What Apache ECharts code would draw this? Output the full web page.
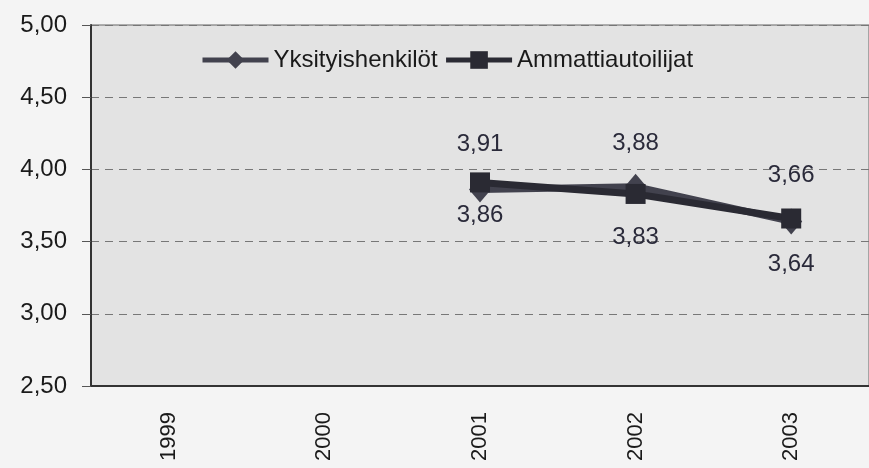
<!DOCTYPE html>
<html>
<head>
<meta charset="utf-8">
<script src="https://cdn.jsdelivr.net/npm/echarts@6/dist/echarts.min.js"></script>
<style>
  html, body { margin: 0; padding: 0; background: #f4f4f4; }
  #chart { width: 869px; height: 468px; }
</style>
</head>
<body>
<div id="chart"></div>
<script>
const years = ["1999", "2000", "2001", "2002", "2003"];
const yksityiset = [null, null, 3.86, 3.88, 3.64];
const ammattilaiset = [null, null, 3.91, 3.83, 3.66];

// label placement (above/below the marker), per year
const yksSide = [null, null, "bottom", "top", "bottom"];
const yksDist = [0, 0, 1, 18, 18];
const ammSide = [null, null, "top", "bottom", "top"];
const ammDist = [0, 0, 16, 21, 21];

const font = "'Liberation Sans', Arial, sans-serif";
const comma = v => v.toFixed(2).replace(".", ",");

function points(values, sides, dists) {
  return values.map((v, i) => v == null ? null : {
    value: v,
    label: { position: sides[i], distance: dists[i] }
  });
}

const chart = echarts.init(document.getElementById("chart"));
chart.setOption({
  animation: false,
  textStyle: { fontFamily: font },
  legend: {
    left: 200,
    top: 48,
    padding: 0,
    itemWidth: 66,
    itemHeight: 22,
    itemGap: 6,
    lineStyle: { width: 5 },
    textStyle: { fontSize: 24, color: "#1a1a1a", fontFamily: font },
    data: ["Yksityishenkilöt", "Ammattiautoilijat"]
  },
  grid: {
    left: 91,
    top: 25,
    width: 794,
    bottom: 82,
    show: true,
    backgroundColor: "#e3e3e3",
    borderColor: "#666",
    borderWidth: 1
  },
  xAxis: {
    type: "category",
    data: years,
    boundaryGap: true,
    axisLine: { lineStyle: { color: "#333", width: 2 } },
    axisTick: { show: false },
    axisLabel: { rotate: 90, fontSize: 22, color: "#1a1a1a", margin: 26, fontFamily: font }
  },
  yAxis: {
    type: "value",
    min: 2.5,
    max: 5,
    interval: 0.5,
    axisLine: { show: true, lineStyle: { color: "#333", width: 2 } },
    axisTick: { show: true, length: 9, lineStyle: { color: "#555" } },
    axisLabel: { fontSize: 24, color: "#1a1a1a", margin: 24, formatter: v => comma(v), fontFamily: font },
    splitLine: { lineStyle: { color: "#777", type: [8, 6], width: 1 } }
  },
  series: [
    {
      name: "Yksityishenkilöt",
      type: "line",
      data: points(yksityiset, yksSide, yksDist),
      symbol: "diamond",
      symbolSize: [22, 26],
      color: "#42424e",
      lineStyle: { width: 7, color: "#42424e" },
      label: { show: true, fontSize: 24, color: "#2a2a3a", fontFamily: font, formatter: p => comma(p.value) }
    },
    {
      name: "Ammattiautoilijat",
      type: "line",
      data: points(ammattilaiset, ammSide, ammDist),
      symbol: "rect",
      symbolSize: 20,
      color: "#2a2a33",
      lineStyle: { width: 7, color: "#2a2a33" },
      label: { show: true, fontSize: 24, color: "#2a2a3a", fontFamily: font, formatter: p => comma(p.value) }
    }
  ]
});
</script>
</body>
</html>
